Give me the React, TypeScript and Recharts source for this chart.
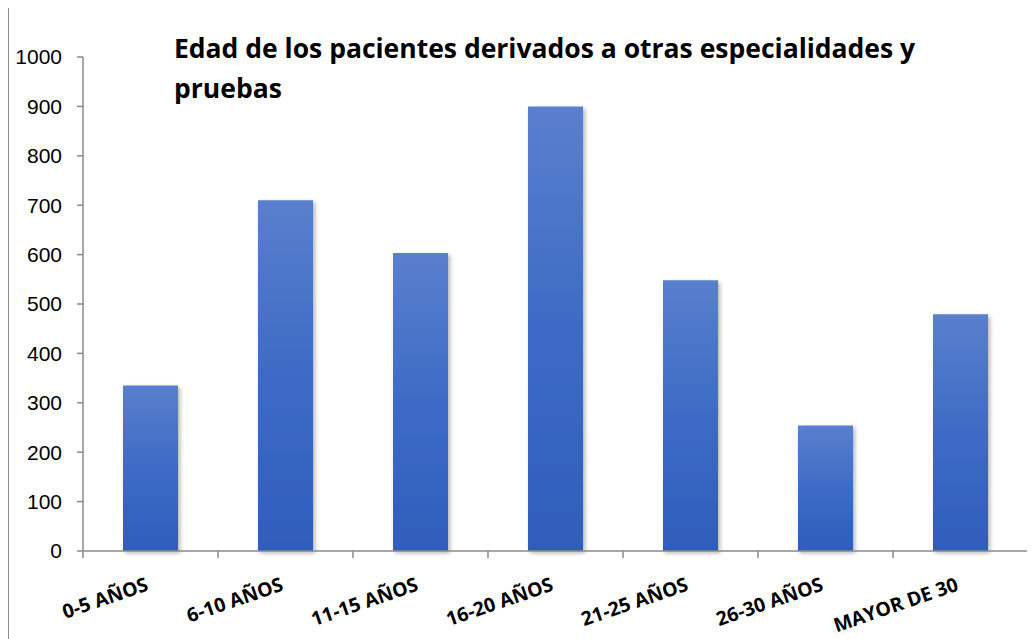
import { BarChart, Bar, XAxis, YAxis } from 'recharts'

const categories = ['0-5 AÑOS', '6-10 AÑOS', '11-15 AÑOS', '16-20 AÑOS', '21-25 AÑOS', '26-30 AÑOS', 'MAYOR DE 30']
const pacientes = [335, 710, 603, 900, 548, 254, 479]
const yTicks = [0, 100, 200, 300, 400, 500, 600, 700, 800, 900, 1000]
const titleLines = ['Edad de los pacientes derivados a otras especialidades y', 'pruebas']

const W = 1030
const H = 632
const M = { top: 49, right: 11, bottom: 0, left: 0 }
const Y_W = 74
const band = (W - M.left - M.right - Y_W) / categories.length

const data = categories.map((c, i) => ({ categoria: c, pacientes: pacientes[i] }))

// category label rotated up to the right, ending under the bar centre;
// tick marks sit on the band edges
function CatTick(props: any) {
  const { x, y, payload, index } = props
  const ax = x - 1
  const ay = y + 39
  return (
    <g>
      {index === 0 && <line x1={x - band / 2} x2={x - band / 2} y1={y} y2={y + 7} stroke="#8a8a8a" strokeWidth={1.5} />}
      <line x1={x + band / 2} x2={x + band / 2} y1={y} y2={y + 7} stroke="#8a8a8a" strokeWidth={1.5} />
      <text x={ax} y={ay} textAnchor="end" transform={`rotate(-19 ${ax} ${ay})`}
        fontFamily="'Open Sans', sans-serif" fontWeight={700} fontSize={19.5} fill="#000">
        {payload.value}
      </text>
    </g>
  )
}

export default function App() {
  return (
    <div style={{ position: 'relative', width: W, height: H, marginTop: -1, borderLeft: '1px solid #8d8d8d', borderTop: '1px solid #8d8d8d', background: '#fff' }}>
      <style>{'html,body{overflow:hidden}'}</style>
      <BarChart width={W} height={H} data={data} margin={M}>
        <defs>
          <linearGradient id="barGrad" x1="0" y1="0" x2="0" y2="1">
            <stop offset="0%" stopColor="#5a7fcd" />
            <stop offset="50%" stopColor="#3d6bc5" />
            <stop offset="100%" stopColor="#2f5dbb" />
          </linearGradient>
          <filter id="barShadow" x="-20%" y="-5%" width="140%" height="115%">
            <feDropShadow dx="2" dy="2" stdDeviation="2" floodColor="#000" floodOpacity="0.3" />
          </filter>
        </defs>
        <XAxis dataKey="categoria" height={89} interval={0} tickSize={0} tickMargin={0}
          axisLine={{ stroke: '#8a8a8a', strokeWidth: 1.5 }} tickLine={false} tick={<CatTick />} />
        <YAxis width={Y_W} domain={[0, 1000]} ticks={yTicks} interval={0} tickSize={6} tickMargin={15}
          axisLine={{ stroke: '#8a8a8a', strokeWidth: 1.5 }} tickLine={{ stroke: '#8a8a8a', strokeWidth: 1.5 }}
          tick={{ fill: '#000', fontSize: 21, fontFamily: "'Liberation Sans', Arial, sans-serif" }} />
        <Bar dataKey="pacientes" barSize={55} fill="url(#barGrad)" filter="url(#barShadow)" isAnimationActive={false} />
      </BarChart>
      <div style={{ position: 'absolute', left: 165, top: 20, fontFamily: "'Open Sans', sans-serif", fontWeight: 700, fontSize: 26.5, lineHeight: '40px', color: '#000', whiteSpace: 'nowrap' }}>
        {titleLines.map((t) => <div key={t}>{t}</div>)}
      </div>
    </div>
  )
}
